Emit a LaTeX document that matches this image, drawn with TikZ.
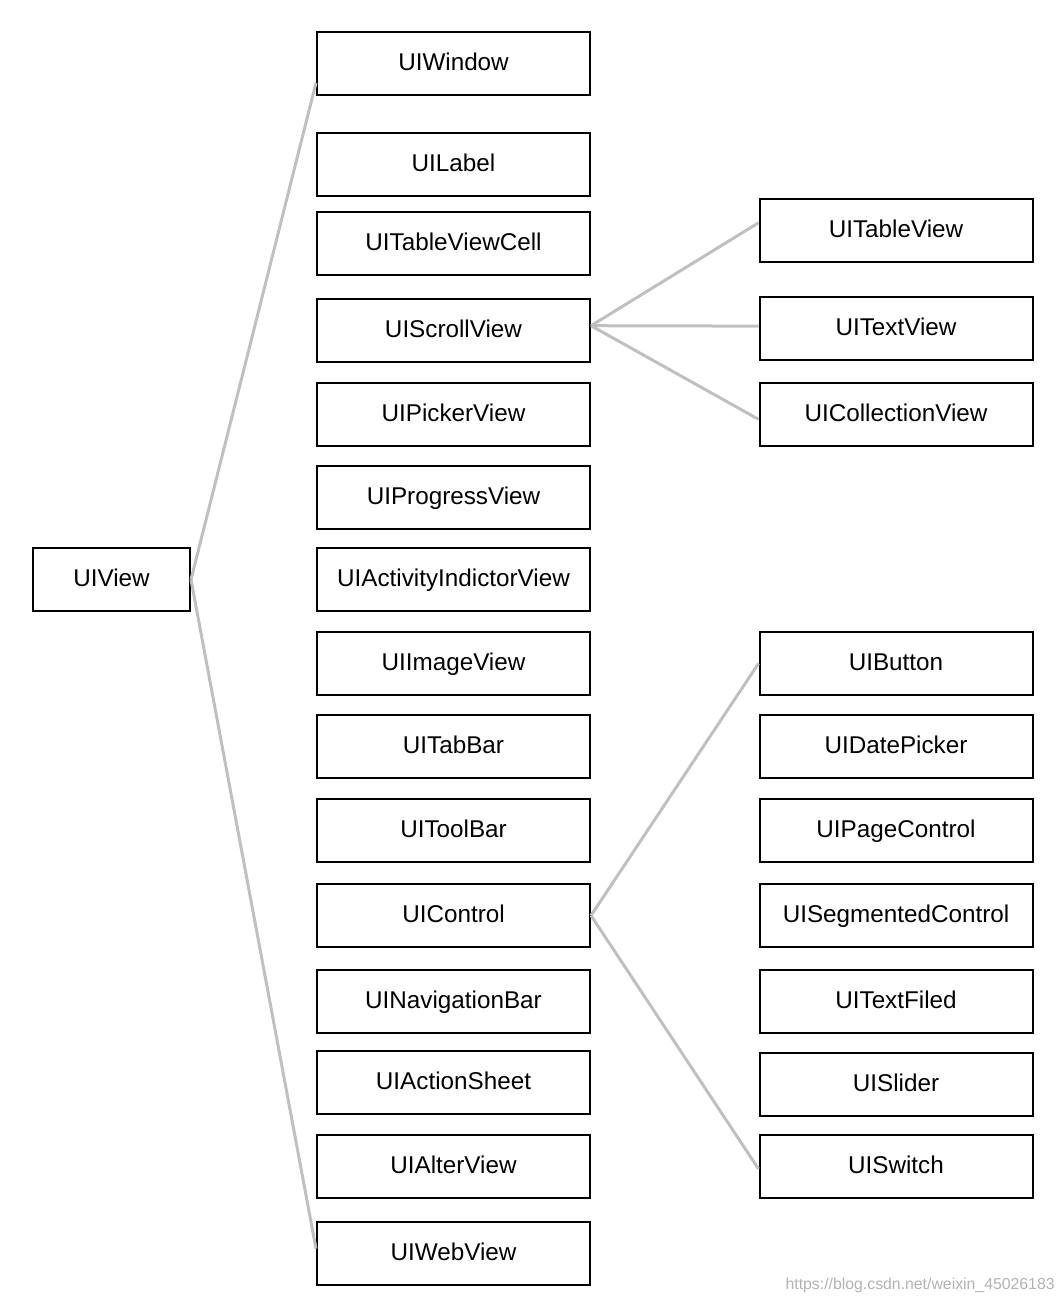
\documentclass[tikz,border=0pt]{standalone}
\usepackage{fontspec}
\setmainfont{Liberation Sans}
\usepackage{tikz}
\definecolor{linegray}{RGB}{192,192,192}

\begin{document}
\begin{tikzpicture}[
        cls/.style = {shape = rectangle, draw = black, line width = 0.04cm, minimum width = 5.46cm, minimum height = 1.26cm, inner sep = 0pt, text height = 0.8em, text depth = 0em, font = \fontsize{13.8}{16}\selectfont},
        link/.style = {draw = linegray, line width = 0.06cm}
    ]
            \useasboundingbox (0, 0) rectangle (21.28, -26.08);

            \node [cls, minimum width = 3.14cm] (view) at (2.23, -11.59) {UIView};

            \node [cls] (window) at (9.07, -1.27) {UIWindow};
            \node [cls] (label) at (9.07, -3.29) {UILabel};
            \node [cls] (cell) at (9.07, -4.87) {UITableViewCell};
            \node [cls] (scroll) at (9.07, -6.61) {UIScrollView};
            \node [cls] (picker) at (9.07, -8.29) {UIPickerView};
            \node [cls] (progress) at (9.07, -9.94) {UIProgressView};
            \node [cls] (activity) at (9.07, -11.59) {UIActivityIndictorView};
            \node [cls] (image) at (9.07, -13.27) {UIImageView};
            \node [cls] (tabbar) at (9.07, -14.92) {UITabBar};
            \node [cls] (toolbar) at (9.07, -16.6) {UIToolBar};
            \node [cls] (control) at (9.07, -18.31) {UIControl};
            \node [cls] (navbar) at (9.07, -20.02) {UINavigationBar};
            \node [cls] (sheet) at (9.07, -21.64) {UIActionSheet};
            \node [cls] (alter) at (9.07, -23.33) {UIAlterView};
            \node [cls] (web) at (9.07, -25.07) {UIWebView};

            \node [cls] (table) at (17.92, -4.6) {UITableView};
            \node [cls] (text) at (17.92, -6.57) {UITextView};
            \node [cls] (collection) at (17.92, -8.29) {UICollectionView};

            \node [cls] (button) at (17.92, -13.27) {UIButton};
            \node [cls] (date) at (17.92, -14.92) {UIDatePicker};
            \node [cls] (page) at (17.92, -16.6) {UIPageControl};
            \node [cls] (segment) at (17.92, -18.31) {UISegmentedControl};
            \node [cls] (field) at (17.92, -20.02) {UITextFiled};
            \node [cls] (slider) at (17.92, -21.68) {UISlider};
            \node [cls] (switch) at (17.92, -23.33) {UISwitch};

            \draw [link] (view.east) -- (window.188);
            \draw [link] (view.east) -- (web.178);

            \draw [link] (scroll.2) -- (table.177);
            \draw [link] (scroll.2) -- (text.179);
            \draw [link] (scroll.2) -- (collection.182);

            \draw [link] (control.east) -- (button.west);
            \draw [link] (control.east) -- (switch.181);

            \node [anchor = east, inner sep = 0pt, text = black!30, font = \fontsize{9}{11}\selectfont] (mark) at (21.1, -25.7) {https://blog.csdn.net/weixin\_45026183};
        \end{tikzpicture}
\end{document}
